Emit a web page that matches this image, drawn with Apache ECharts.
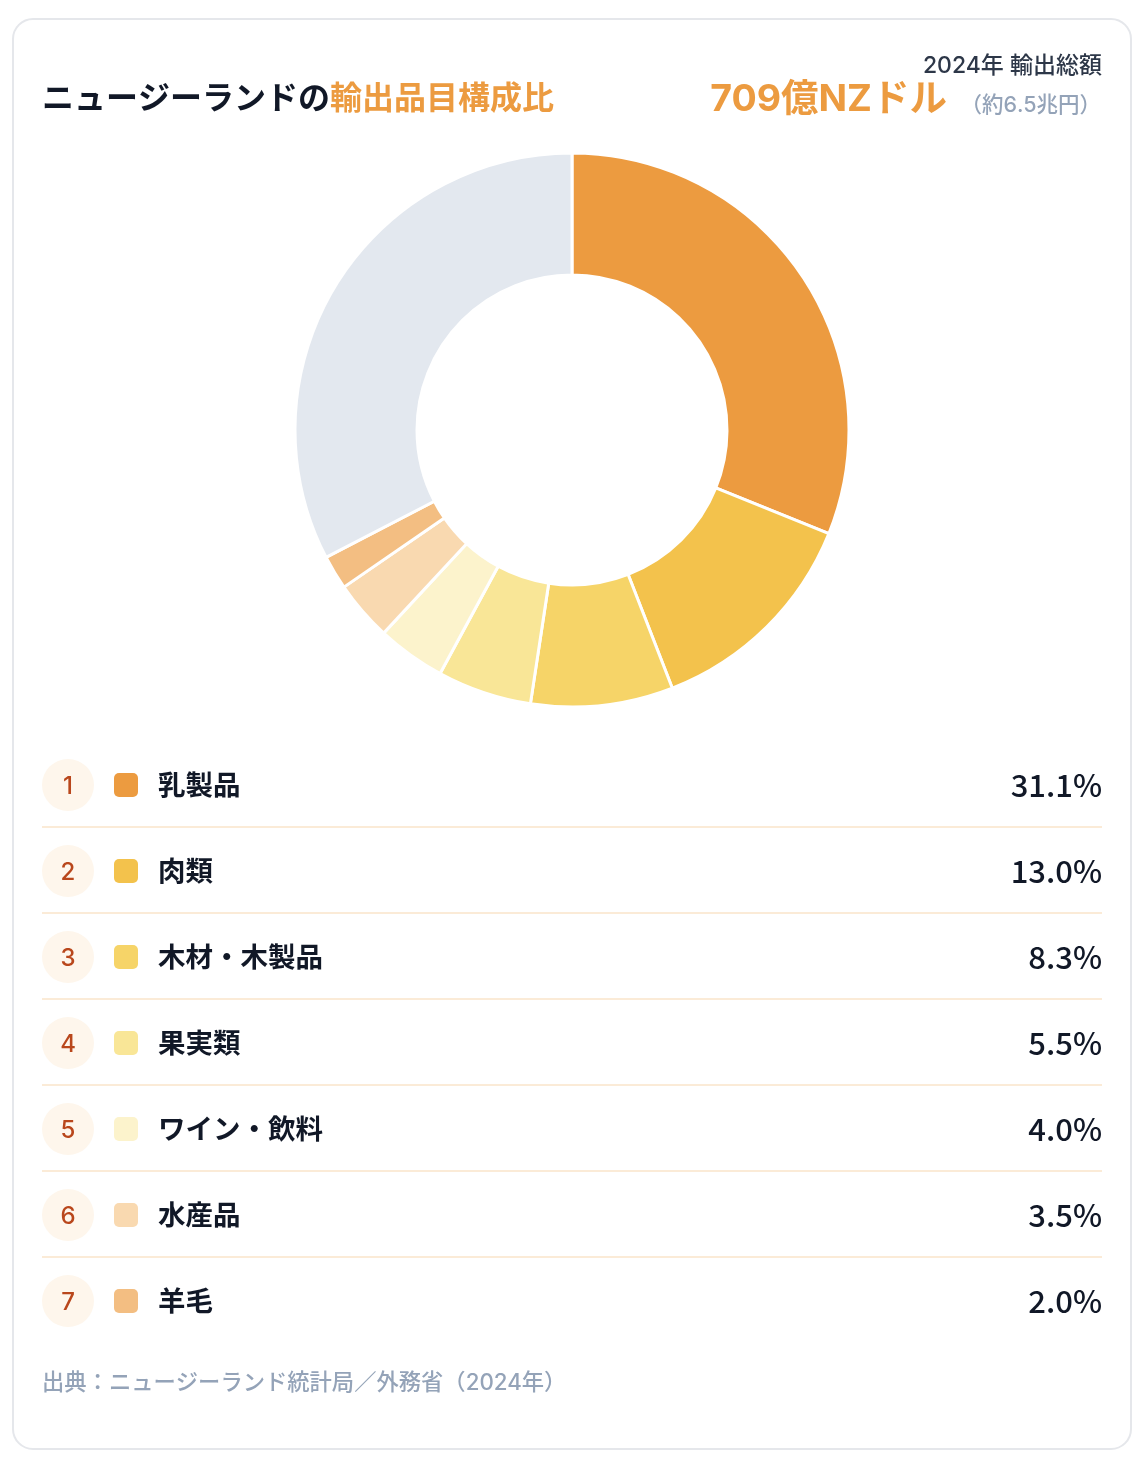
<!DOCTYPE html>
<html>
<head>
<meta charset="utf-8">
<script src="https://cdn.jsdelivr.net/npm/echarts@6/dist/echarts.min.js"></script>
<style>
html,body{margin:0;padding:0;background:#fff;}
#c{width:1146px;height:1476px;}
</style>
</head>
<body>
<div id="c"></div>
<script>
var categories = ['乳製品','肉類','木材・木製品','果実類','ワイン・飲料','水産品','羊毛'];
var shares = [31.1, 13.0, 8.3, 5.5, 4.0, 3.5, 2.0];
var colors = ['#EC9B40','#F3C24C','#F6D468','#F9E697','#FCF3CC','#F9D9B0','#F3BE82'];
var otherLabel = 'その他';
var otherColor = '#E3E8EF';

var FONT = '"Noto Sans CJK JP", "Noto Sans", sans-serif';
var NFONT = 'Inter, "Noto Sans CJK JP", sans-serif';
var sum = shares.reduce(function(a,b){return a+b;},0);
var otherShare = Math.round((100 - sum)*10)/10;

var pieData = categories.map(function(n,i){
  return {name:n, value:shares[i], itemStyle:{color:colors[i]}};
});
pieData.push({name:otherLabel, value:otherShare, itemStyle:{color:otherColor}});

var graphics = [];
graphics.push({type:'rect', shape:{x:13,y:19,width:1118,height:1430,r:20}, style:{fill:'#fff',stroke:'#E5E7EB',lineWidth:2}, z:-10});
graphics.push({type:'text', left:42, top:81, style:{
  text:'{a|ニュージーランドの}{b|輸出品目構成比}', font:'bold 32px '+FONT,
  rich:{a:{fill:'#111827',font:'bold 32px '+FONT},b:{fill:'#EC9B40',font:'bold 32px '+FONT}}
}});
graphics.push({type:'text', x:1102, y:66, style:{text:'2024年 輸出総額', fill:'#2D3748', font:'500 23px '+NFONT, align:'right', verticalAlign:'middle'}});
graphics.push({type:'text', x:1101, y:106, style:{text:'（約6.5兆円）', fill:'#94A3B8', font:'500 21.5px '+NFONT, align:'right', verticalAlign:'middle'}});
graphics.push({type:'text', x:947, y:100, style:{text:'709億NZドル', fill:'#EC9B40', font:'bold 37.5px '+NFONT, align:'right', verticalAlign:'middle'}});

var rowY0 = 785, rowH = 86;
categories.forEach(function(n,i){
  var y = rowY0 + i*rowH;
  graphics.push({type:'circle', shape:{cx:68,cy:y,r:26}, style:{fill:'#FEF6EC'}});
  graphics.push({type:'text', x:68, y:y+2, style:{text:String(i+1), fill:'#B9471C', font:'500 24px '+NFONT, align:'center', verticalAlign:'middle'}});
  graphics.push({type:'rect', shape:{x:114,y:y-12,width:24,height:24,r:5}, style:{fill:colors[i]}});
  graphics.push({type:'text', x:158, y:y, style:{text:n, fill:'#111827', font:'bold 27.5px '+FONT, align:'left', verticalAlign:'middle'}});
  graphics.push({type:'text', x:1102, y:y, style:{text:shares[i].toFixed(1)+'%', fill:'#111827', font:'500 31px '+FONT, align:'right', verticalAlign:'middle'}});
  if(i < categories.length-1){
    graphics.push({type:'rect', shape:{x:42,y:y+41,width:1060,height:2}, style:{fill:'#FBEBD7'}});
  }
});
graphics.push({type:'text', x:42, y:1383, style:{text:'出典：ニュージーランド統計局／外務省（2024年）', fill:'#94A3B8', font:'500 22.3px '+NFONT, align:'left', verticalAlign:'middle'}});

var chart = echarts.init(document.getElementById('c'), null, {renderer:'canvas'});
chart.setOption({
  animation:false,
  backgroundColor:'#fff',
  graphic:graphics,
  series:[{
    type:'pie',
    center:[572,430],
    radius:[155,277],
    startAngle:90,
    clockwise:true,
    label:{show:false},
    labelLine:{show:false},
    emphasis:{disabled:true},
    itemStyle:{borderColor:'#fff',borderWidth:3},
    data:pieData,
    z:5
  }]
});
</script>
</body>
</html>
